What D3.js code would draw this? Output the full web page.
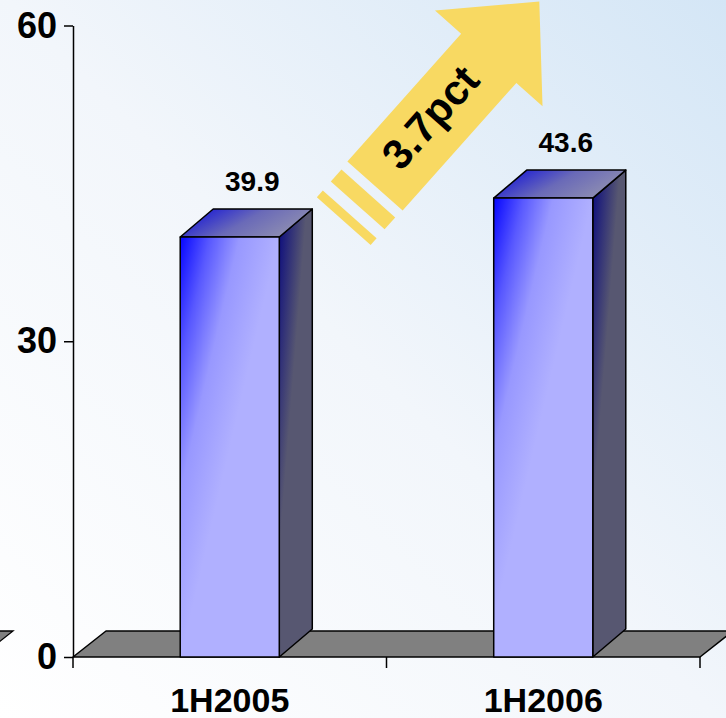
<!DOCTYPE html>
<html><head><meta charset="utf-8">
<script src="https://cdn.jsdelivr.net/npm/d3@7"></script>
<style>html,body{margin:0;padding:0;overflow:hidden;background:#fff}</style>
</head><body>
<svg id="chart" width="726" height="718"></svg>
<script>
const categories = ["1H2005", "1H2006"];
const values = [39.9, 43.6];
const valueLabels = ["39.9", "43.6"];
const yTicks = [0, 30, 60];
const yTickLabels = ["0", "30", "60"];
const arrowLabel = "3.7pct";

const W = 726, H = 718;
const FONT = "'Liberation Sans', Arial, sans-serif";
const svg = d3.select("#chart");
const defs = svg.append("defs");

// background
const bg = defs.append("linearGradient").attr("id", "bg").attr("gradientUnits", "userSpaceOnUse")
  .attr("x1", 0).attr("y1", H).attr("x2", W).attr("y2", 0);
[[0, "#ffffff"], [0.5, "#f2f6fb"], [1, "#d4e6f6"]].forEach(s => bg.append("stop").attr("offset", s[0]).attr("stop-color", s[1]));
svg.append("rect").attr("width", W).attr("height", H).attr("fill", "url(#bg)");

const tg = defs.append("linearGradient").attr("id", "top").attr("x1", 0.2).attr("y1", 0).attr("x2", 1).attr("y2", 0.3);
[[0, "#2424d2"], [0.5, "#6a6ab8"], [1, "#8a8ab2"]].forEach(s => tg.append("stop").attr("offset", s[0]).attr("stop-color", s[1]));

const y = d3.scaleLinear().domain([0, 60]).range([657, 25.5]);
const x = d3.scaleBand().domain(categories).range([73, 700]);
const barW = x.bandwidth() * 0.316;
const DX = 33, DY = -28, FDX = 33, FDY = -26;
const [x0r, x1r] = x.range();
const y0 = y(0);

// fragment of a neighbouring floor at far left
svg.append("path").attr("d", `M-40,${y0 + FDY}L13,${y0 + FDY}L-20,${y0}Z`)
  .attr("fill", "#808080").attr("stroke", "#000").attr("stroke-width", 1.3);

// floor
svg.append("path")
  .attr("d", `M${x0r},${y0}L${x1r},${y0}L${x1r + FDX},${y0 + FDY}L${x0r + FDX},${y0 + FDY}Z`)
  .attr("fill", "#808080").attr("stroke", "#000").attr("stroke-width", 1.5).attr("stroke-linejoin", "round");

// y axis
const yAxis = d3.axisLeft(y).tickValues(yTicks).tickFormat((d, i) => yTickLabels[i]).tickSize(9).tickSizeOuter(0).tickPadding(7);
const ga = svg.append("g").attr("transform", `translate(${x0r},0)`).call(yAxis);
ga.select(".domain").attr("stroke", "#000").attr("stroke-width", 1.5);
ga.selectAll(".tick line").attr("stroke", "#000").attr("stroke-width", 1.5);
ga.selectAll(".tick text").attr("font-family", FONT).attr("font-weight", "bold").attr("font-size", 36).attr("fill", "#000");

// x boundary ticks
const bounds = [x0r, ...categories.slice(1).map(c => x(c)), x1r];
svg.selectAll(".xb").data(bounds).enter().append("line")
  .attr("x1", d => d).attr("x2", d => d).attr("y1", y0).attr("y2", y0 + 11)
  .attr("stroke", "#000").attr("stroke-width", 1.5);

// category labels
svg.selectAll(".cat").data(categories).enter().append("text")
  .attr("x", d => x(d) + x.bandwidth() / 2).attr("y", 712)
  .attr("text-anchor", "middle").attr("font-family", FONT).attr("font-weight", "bold").attr("font-size", 34)
  .text(d => d);

// bars
categories.forEach((c, i) => {
  const cx = x(c) + x.bandwidth() / 2;
  const bx = cx - barW / 2, bx2 = cx + barW / 2, top = y(values[i]);
  const fg = defs.append("linearGradient").attr("id", "front" + i).attr("gradientUnits", "userSpaceOnUse")
    .attr("x1", bx).attr("y1", top).attr("x2", bx + 94).attr("y2", top + 22);
  [[0, "#0606ff"], [0.3, "#5858ff"], [0.6, "#9898ff"], [1, "#b0b0ff"]].forEach(s => fg.append("stop").attr("offset", s[0]).attr("stop-color", s[1]));
  const sg = defs.append("linearGradient").attr("id", "side" + i).attr("gradientUnits", "userSpaceOnUse")
    .attr("x1", bx2).attr("y1", top).attr("x2", bx2 + 25).attr("y2", top + 2);
  [[0, "#10107e"], [0.45, "#303078"], [1, "#575771"]].forEach(s => sg.append("stop").attr("offset", s[0]).attr("stop-color", s[1]));

  const g = svg.append("g").attr("stroke", "#000").attr("stroke-width", 1.5).attr("stroke-linejoin", "round");
  g.append("path").attr("d", `M${bx2},${top}L${bx2 + DX},${top + DY}L${bx2 + DX},${y0 + DY}L${bx2},${y0}Z`).attr("fill", `url(#side${i})`);
  g.append("path").attr("d", `M${bx},${top}L${bx + DX},${top + DY}L${bx2 + DX},${top + DY}L${bx2},${top}Z`).attr("fill", "url(#top)");
  g.append("rect").attr("x", bx).attr("y", top).attr("width", barW).attr("height", y0 - top).attr("fill", `url(#front${i})`);

  svg.append("text").attr("x", cx + DX / 2 + 6).attr("y", top + DY - 18)
    .attr("text-anchor", "middle").attr("font-family", FONT).attr("font-weight", "bold").attr("font-size", 28)
    .text(valueLabels[i]);
});

// growth arrow
const ag = svg.append("g").attr("transform", "translate(375,186) rotate(-48.3)").attr("fill", "#f8d962");
ag.append("path").attr("d", "M0,-37L171,-37L171,-72L247,0L171,72L171,37L0,37Z");
ag.append("rect").attr("x", -26).attr("y", -36).attr("width", 16).attr("height", 72);
ag.append("rect").attr("x", -47).attr("y", -36).attr("width", 9).attr("height", 72);
ag.append("text").attr("x", 88).attr("y", -5).attr("dy", "0.36em").attr("text-anchor", "middle")
  .attr("font-family", FONT).attr("font-weight", "bold").attr("font-size", 42).attr("fill", "#000")
  .text(arrowLabel);
</script>
</body></html>
